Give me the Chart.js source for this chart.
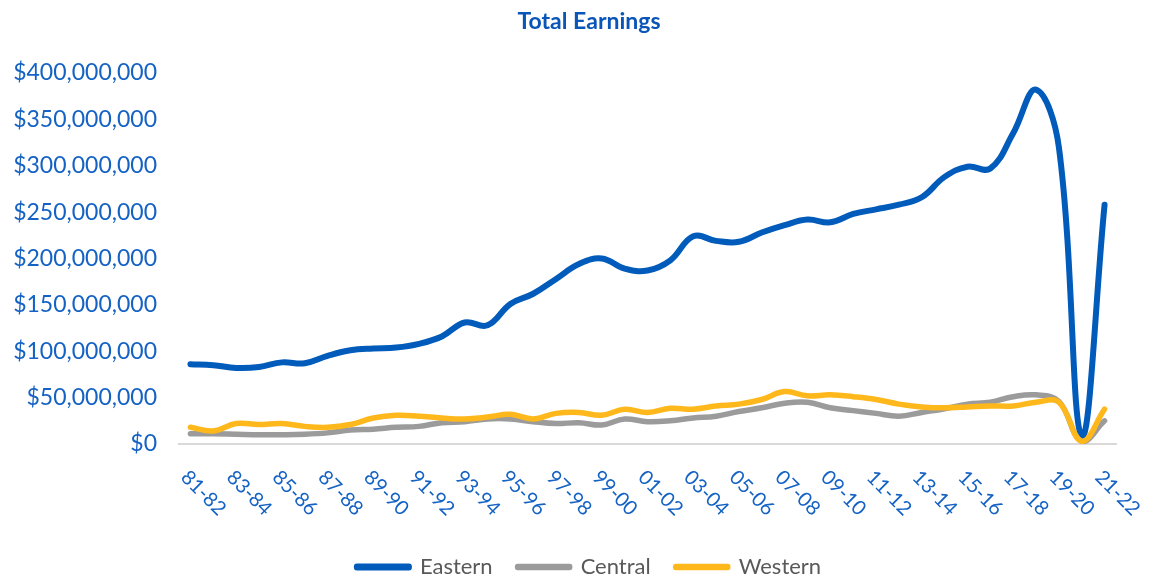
<!DOCTYPE html>
<html>
<head>
<meta charset="utf-8">
<script src="https://cdn.jsdelivr.net/npm/chart.js@4/dist/chart.umd.min.js"></script>
<style>
  html, body { margin: 0; padding: 0; background: #fff; }
  #wrap { width: 1151px; height: 575px; position: relative; }
</style>
</head>
<body>
<div id="wrap"><canvas id="earningsChart"></canvas></div>
<script>
// seasons on the x axis
const categories = [
    '81-82', '82-83', '83-84', '84-85', '85-86', '86-87', '87-88', '88-89', '89-90', '90-91',
    '91-92', '92-93', '93-94', '94-95', '95-96', '96-97', '97-98', '98-99', '99-00', '00-01',
    '01-02', '02-03', '03-04', '04-05', '05-06', '06-07', '07-08', '08-09', '09-10', '10-11',
    '11-12', '12-13', '13-14', '14-15', '15-16', '16-17', '17-18', '18-19', '19-20', '20-21',
    '21-22'
];

// every other season gets a label
const shownLabels = [
    '81-82', '83-84', '85-86', '87-88', '89-90', '91-92', '93-94', '95-96', '97-98', '99-00',
    '01-02', '03-04', '05-06', '07-08', '09-10', '11-12', '13-14', '15-16', '17-18', '19-20',
    '21-22'
];

// earnings in millions of dollars
const eastern = [
    86, 85, 82, 83, 88, 87, 95, 101, 103, 104,
    108, 116, 131, 128, 151, 162, 178, 194, 200, 189,
    187, 198, 224, 219, 218, 228, 236, 242, 239, 248,
    253, 258, 266, 288, 299, 297, 335, 382, 320, 8,
    258
];
const central = [
    11, 11, 10.5, 10, 10, 10.5, 12, 15, 16, 18,
    19, 23, 24, 27, 27, 24, 22, 23, 20.5, 27,
    24, 25, 28, 30, 35, 39, 44, 45, 39, 36,
    33, 30, 34, 38, 43, 45, 51, 53, 46, 3,
    25
];
const western = [
    18, 14, 22, 21, 22, 19, 18, 21, 28, 31,
    30, 28, 27, 29, 32, 27, 33, 34, 31, 37.5,
    34, 38.5, 37.5, 41, 43, 48, 56.5, 52, 53, 51,
    48, 43, 40, 39, 40, 41, 41, 45, 45, 3,
    37.5
];

// y tick values, millions
const yTicks = [0, 50, 100, 150, 200, 250, 300, 350, 400];

const tickColor = '#1462C4';
const toDollars = arr => arr.map(v => v * 1000000);
const money = v => '$' + v.toLocaleString('en-US');

// axis labels drawn by hand: x ones slant down to the right, and the
// y ones need to spill left of the axis box without being clipped
const axisLabels = {
    id: 'axisLabels',
    afterDraw(chart) {
        const ctx = chart.ctx;
        const x = chart.scales.x;
        const y = chart.scales.y;
        ctx.save();
        ctx.fillStyle = tickColor;

        ctx.font = '23px Lato';
        ctx.textAlign = 'right';
        ctx.textBaseline = 'middle';
        yTicks.forEach(v => {
            const val = v * 1000000;
            ctx.fillText(money(val), chart.chartArea.left - 22, y.getPixelForValue(val));
        });

        ctx.font = '20px Lato';
        ctx.textAlign = 'left';
        shownLabels.forEach(label => {
            const px = x.getPixelForValue(categories.indexOf(label));
            ctx.save();
            ctx.translate(px - 6, x.top + 30);
            ctx.rotate(Math.PI / 4);
            ctx.fillText(label, 0, 0);
            ctx.restore();
        });
        ctx.restore();
    }
};

const ctx = document.getElementById('earningsChart').getContext('2d');
const earningsChart = new Chart(ctx, {
    type: 'line',
    data: {
        labels: categories,
        datasets: [
            {
                label: 'Eastern',
                data: toDollars(eastern),
                borderColor: '#005BBB',
                backgroundColor: '#005BBB',
                borderWidth: 6,
                order: 2
            },
            {
                label: 'Central',
                data: toDollars(central),
                borderColor: '#9B9B9B',
                backgroundColor: '#9B9B9B',
                borderWidth: 5.5,
                order: 1
            },
            {
                label: 'Western',
                data: toDollars(western),
                borderColor: '#FFB81C',
                backgroundColor: '#FFB81C',
                borderWidth: 5.5,
                order: 0
            }
        ]
    },
    options: {
        responsive: true,
        maintainAspectRatio: false,
        animation: false,
        layout: {
            padding: { left: 62, right: 35, top: 0, bottom: 0 }
        },
        elements: {
            point: { radius: 0, hoverRadius: 0 },
            line: { tension: 0.4, borderCapStyle: 'round', borderJoinStyle: 'round', fill: false }
        },
        plugins: {
            title: {
                display: true,
                text: 'Total Earnings',
                color: '#0A56B8',
                font: { family: 'Lato', size: 23, weight: 'bold' },
                padding: { top: 8, bottom: 37.4 }
            },
            legend: {
                position: 'bottom',
                maxHeight: 44,
                labels: {
                    boxWidth: 52,
                    boxHeight: 1,
                    padding: 25,
                    color: '#595959',
                    font: { family: 'Lato', size: 22 },
                    sort: (a, b) => a.datasetIndex - b.datasetIndex
                }
            },
            tooltip: { enabled: false }
        },
        scales: {
            x: {
                offset: true,
                grid: { display: false, drawTicks: false },
                border: { display: true, color: '#D9D9D9', width: 2 },
                ticks: { display: false },
                afterFit: scale => { scale.height = 87; }
            },
            y: {
                min: yTicks[0] * 1000000,
                max: yTicks[yTicks.length - 1] * 1000000,
                grid: { display: false, drawTicks: false },
                border: { display: false },
                ticks: { display: false, stepSize: 50000000 },
                afterFit: scale => { scale.width = 117; }
            }
        }
    },
    plugins: [axisLabels]
});
</script>
</body>
</html>
